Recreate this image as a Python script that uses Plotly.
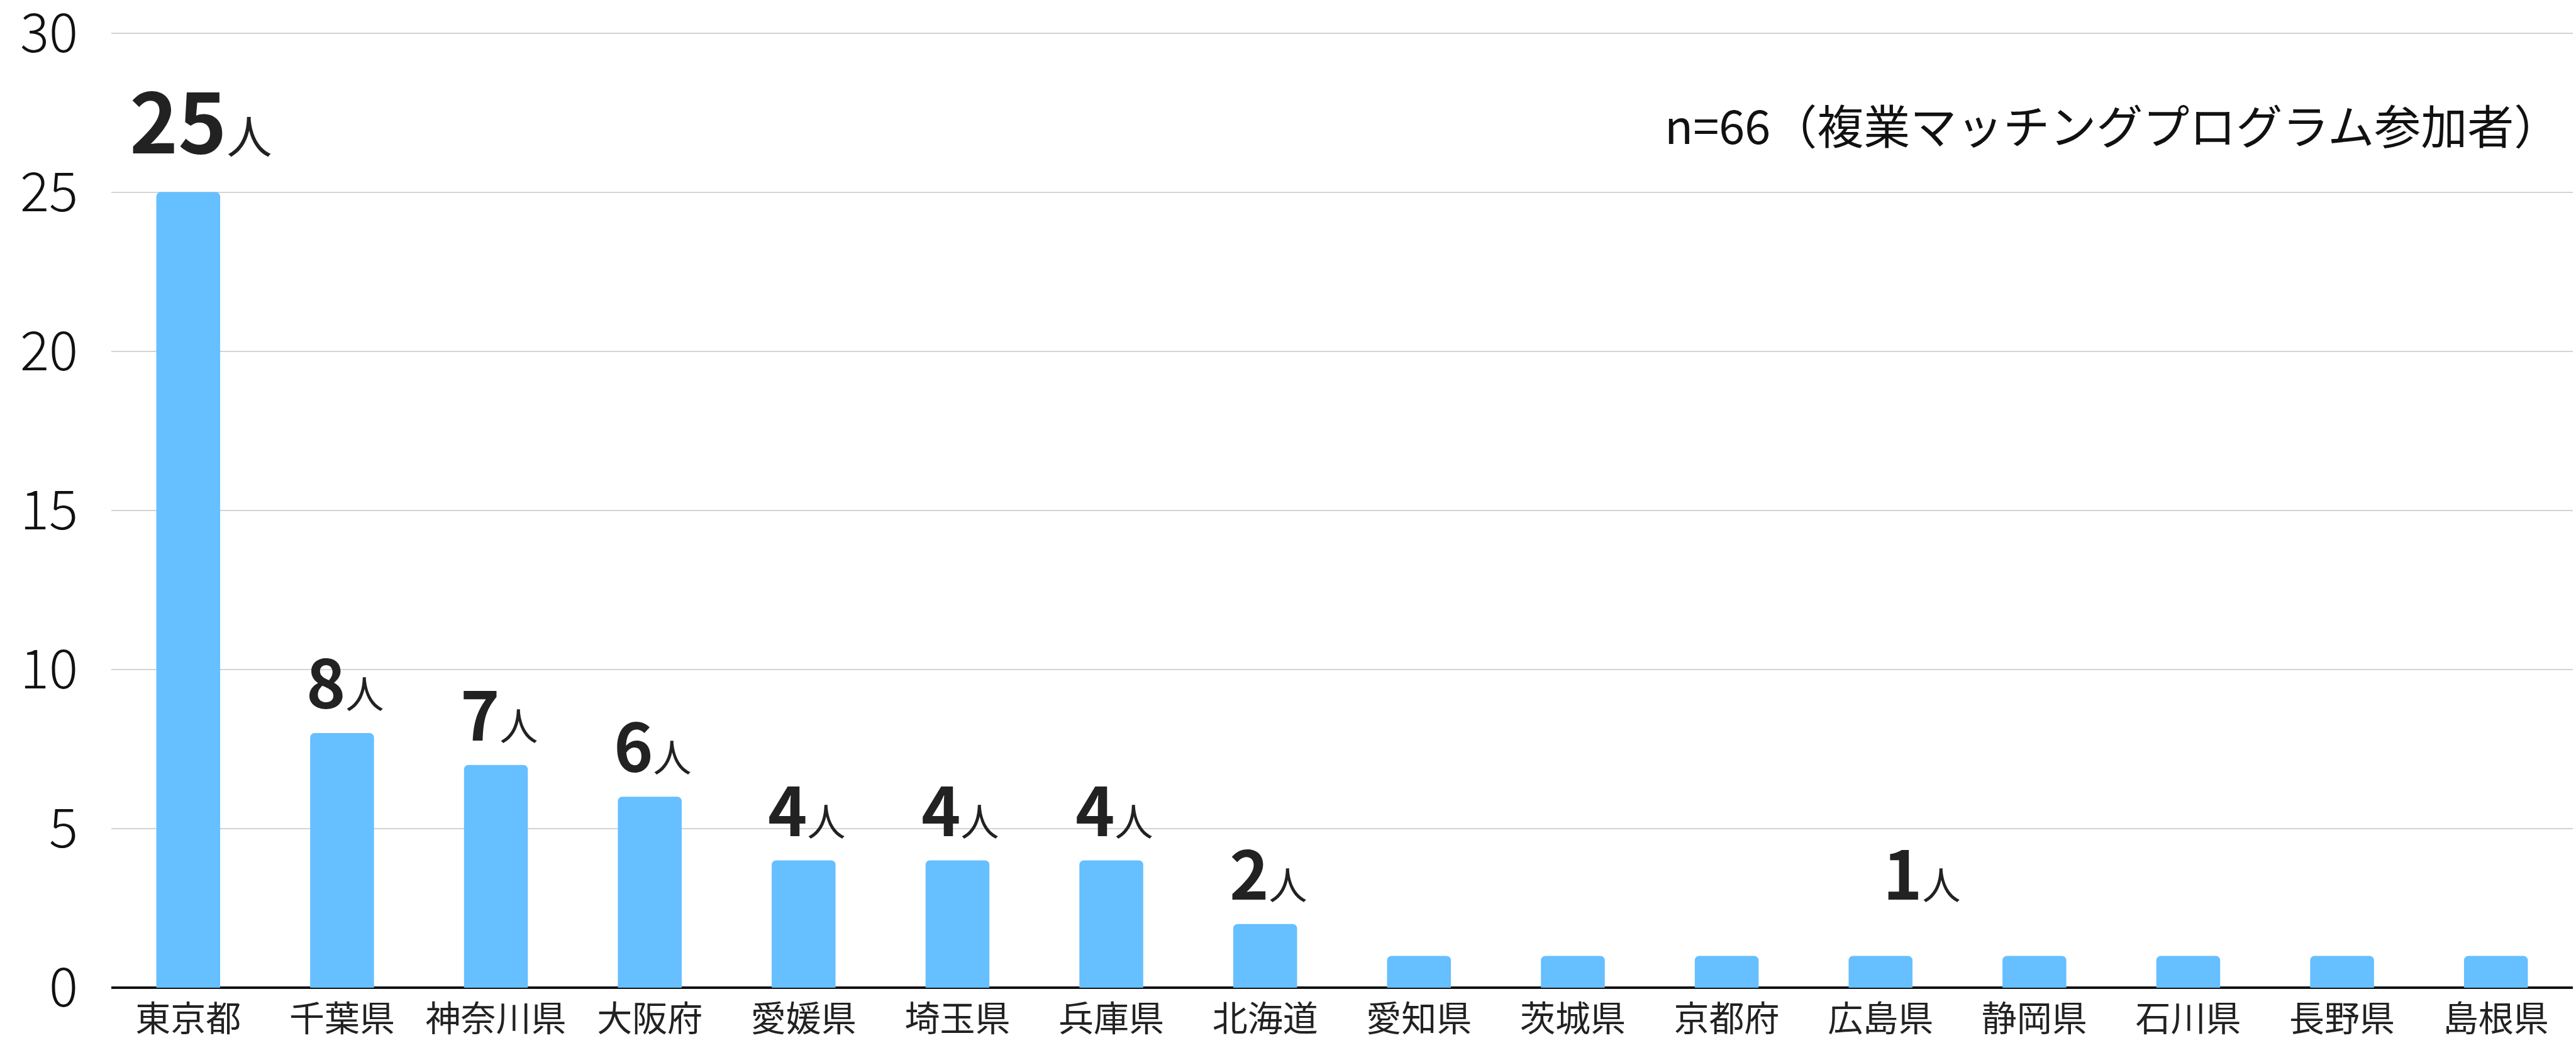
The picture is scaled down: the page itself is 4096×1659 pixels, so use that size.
import plotly.graph_objects as go

prefectures = ["東京都", "千葉県", "神奈川県", "大阪府", "愛媛県", "埼玉県", "兵庫県", "北海道",
               "愛知県", "茨城県", "京都府", "広島県", "静岡県", "石川県", "長野県", "島根県"]
counts = [25, 8, 7, 6, 4, 4, 4, 2, 1, 1, 1, 1, 1, 1, 1, 1]

# value labels: (category, value shown, y-position value)
label_cats = ["東京都", "千葉県", "神奈川県", "大阪府", "愛媛県", "埼玉県", "兵庫県", "北海道", "広島県"]
label_vals = [25, 8, 7, 6, 4, 4, 4, 2, 1]
label_ypos = [25, 8, 7, 6, 4, 4, 4, 2, 2]

y_ticks = [0, 5, 10, 15, 20, 25, 30]

note_text = "n=66（複業マッチングプログラム参加者）"

FONT = "Noto Sans CJK JP"
BAR_COLOR = "#66BFFF"

fig = go.Figure()
fig.add_trace(go.Bar(
    x=prefectures, y=counts,
    marker=dict(color=BAR_COLOR, cornerradius=7, line=dict(width=0)),
    hoverinfo="skip",
))

annotations = []
for cat, val, ypos in zip(label_cats, label_vals, label_ypos):
    if val == 25:
        txt = f"<b>{val}</b><span style='font-size:72px'>人</span>"
        size, ys, xs = 131, 22, 20
    elif val == 1:
        txt = f"<b>{val}</b><span style='font-size:61px'>人</span>"
        size, ys, xs = 106, 6, 66
    else:
        txt = f"<b>{val}</b><span style='font-size:61px'>人</span>"
        size, ys, xs = 106, 6, 5
    annotations.append(dict(
        x=cat, y=ypos, xref="x", yref="y", text=txt, showarrow=False,
        xanchor="center", yanchor="bottom", yshift=ys, xshift=xs,
        font=dict(family=FONT, size=size, color="#222222"),
    ))

annotations.append(dict(
    x=0.9954, y=0.9046, xref="paper", yref="paper", text=note_text,
    showarrow=False, xanchor="right", yanchor="middle",
    font=dict(family=FONT, size=74, color="#111111"),
))

fig.update_layout(
    width=4096, height=1659,
    margin=dict(l=177, r=5, t=51, b=88, autoexpand=False),
    paper_bgcolor="white", plot_bgcolor="white",
    bargap=0.585,
    showlegend=False,
    annotations=annotations,
    font=dict(family=FONT),
)
fig.update_yaxes(
    range=[0, 30.03], tickvals=y_ticks, ticktext=[str(v) for v in y_ticks],
    showgrid=True, gridcolor="#d4d4d4", gridwidth=2,
    zeroline=True, zerolinecolor="#111111", zerolinewidth=4,
    showline=False, ticks="", automargin=False,
    tickfont=dict(family=FONT, size=86, color="#111111", weight=300),
    ticklabelstandoff=52, ticklabeloverflow="allow",
)
fig.update_xaxes(
    showgrid=False, showline=False, ticks="", automargin=False,
    tickfont=dict(family=FONT, size=56, color="#222222"),
    ticklabelstandoff=12, ticklabeloverflow="allow",
)

fig.write_html("out.html")
